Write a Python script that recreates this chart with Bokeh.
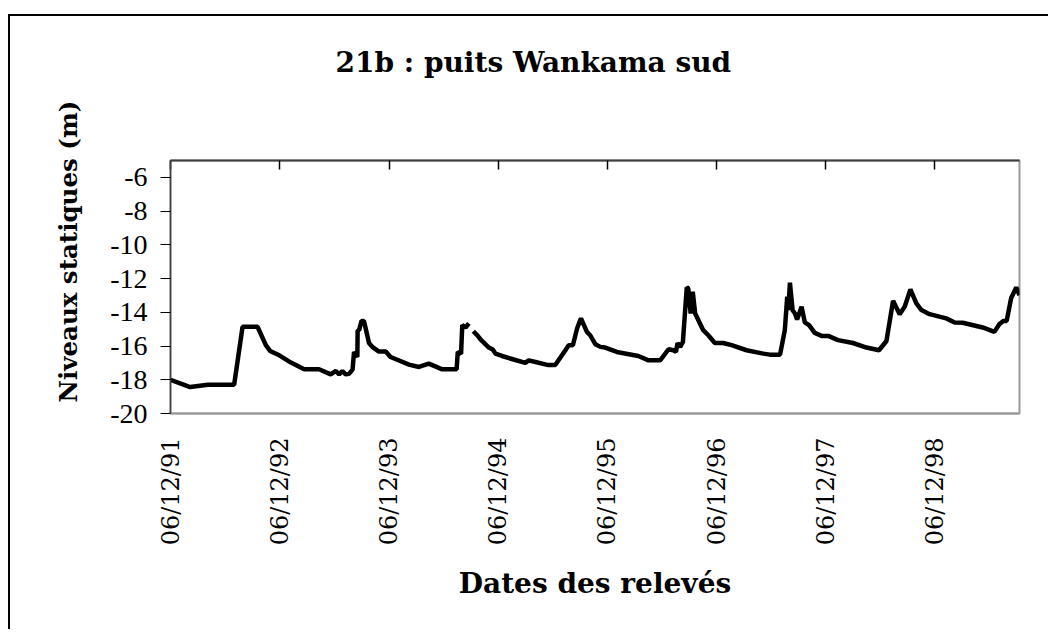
import numpy as np
import pandas as pd
from bokeh.plotting import figure
from bokeh.models import (FixedTicker, DatetimeTickFormatter, DatetimeAxis,
                          Title, Range1d, CustomJSTickFormatter)
from bokeh.embed import file_html
from bokeh.resources import INLINE

# ---- data ----
dates = [
    "1991-12-06", "1992-02-10", "1992-04-09", "1992-07-06", "1992-08-03",
    "1992-09-22", "1992-10-20", "1992-11-03", "1992-12-04", "1993-01-12",
    "1993-02-25", "1993-04-16", "1993-05-25", "1993-06-11", "1993-06-22",
    "1993-07-03", "1993-07-14", "1993-07-25", "1993-08-06", "1993-08-11",
    "1993-08-22", "1993-08-23", "1993-08-28", "1993-09-05", "1993-09-13",
    "1993-09-19", "1993-09-30", "1993-10-11", "1993-11-02", "1993-11-25",
    "1993-12-11", "1994-02-11", "1994-03-16", "1994-04-18", "1994-06-02",
    "1994-07-20", "1994-07-24", "1994-08-04", "1994-08-08", "1994-08-19",
    "1994-08-30", "1994-09-06", "1994-09-14", "1994-09-27", "1994-10-08",
    "1994-11-05", "1994-11-18", "1994-11-27", "1994-12-19", "1995-01-27",
    "1995-03-07", "1995-03-18", "1995-04-10", "1995-05-19", "1995-06-15",
    "1995-07-19", "1995-07-30", "1995-08-13", "1995-08-27", "1995-09-09",
    "1995-09-29", "1995-10-10", "1995-10-27", "1995-11-13", "1995-11-29",
    "1996-01-07", "1996-03-19", "1996-04-22", "1996-05-31", "1996-06-28",
    "1996-07-14", "1996-07-23", "1996-07-28", "1996-08-06", "1996-08-15",
    "1996-08-28", "1996-09-02", "1996-09-10", "1996-09-17", "1996-09-25",
    "1996-10-22", "1996-11-08", "1996-11-30", "1996-12-28", "1997-01-25",
    "1997-03-16", "1997-05-11", "1997-06-02", "1997-07-06", "1997-07-22",
    "1997-07-30", "1997-08-03", "1997-08-08", "1997-08-17", "1997-08-25",
    "1997-09-01", "1997-09-16", "1997-09-27", "1997-10-11", "1997-10-30",
    "1997-11-22", "1997-12-14", "1998-01-16", "1998-03-07", "1998-04-21",
    "1998-06-02", "1998-06-27", "1998-07-19", "1998-08-10", "1998-08-27",
    "1998-09-15", "1998-10-05", "1998-10-22", "1998-11-18", "1999-01-13",
    "1999-02-10", "1999-03-09", "1999-05-15", "1999-06-23", "1999-07-10",
    "1999-07-23", "1999-08-03", "1999-08-18", "1999-09-04", "1999-09-15",
]
levels = [
    -18.00, -18.43, -18.29, -18.29, -14.86,
    -14.86, -15.95, -16.29, -16.55, -16.98,
    -17.38, -17.38, -17.68, -17.48, -17.68,
    -17.48, -17.68, -17.65, -17.40, -16.35,
    -16.65, -15.06, -15.06, -14.51, -14.51,
    -14.96, -15.82, -16.05, -16.33, -16.33,
    -16.65, -17.10, -17.24, -17.04, -17.38,
    -17.38, -16.35, -16.45, -14.76, -14.90,
    -14.66, np.nan, -15.12, -15.36, -15.61,
    -16.09, -16.21, -16.45, -16.59, -16.80,
    -17.00, -16.85, -16.95, -17.12, -17.12,
    -16.25, -15.95, -15.95, -14.96, -14.36,
    -15.16, -15.36, -15.89, -16.05, -16.09,
    -16.35, -16.59, -16.85, -16.85, -16.19,
    -16.25, -16.35, -15.82, -16.05, -15.76,
    -12.52, -12.58, -14.07, -12.78, -14.07,
    -15.06, -15.36, -15.82, -15.82, -15.95,
    -16.25, -16.45, -16.51, -16.51, -15.06,
    -13.08, -13.87, -12.24, -13.87, -14.07,
    -14.42, -13.67, -14.60, -14.76, -15.22,
    -15.40, -15.40, -15.65, -15.82, -16.09,
    -16.25, -15.70, -13.32, -14.11, -13.67,
    -12.64, -13.47, -13.87, -14.11, -14.36,
    -14.60, -14.62, -14.90, -15.16, -14.70,
    -14.51, -14.51, -13.17, -12.52, -12.98,
]
tick_dates = ["1991-12-06", "1992-12-06", "1993-12-06", "1994-12-06",
              "1995-12-06", "1996-12-06", "1997-12-06", "1998-12-06"]
tick_labels = ["06/12/91", "06/12/92", "06/12/93", "06/12/94",
               "06/12/95", "06/12/96", "06/12/97", "06/12/98"]
y_ticks = [-20, -18, -16, -14, -12, -10, -8, -6]

title_text = "21b : puits Wankama sud"
x_title = "Dates des relevés"
y_title = "Niveaux statiques (m)"


def to_ms(values):
    ts = pd.to_datetime(pd.Series(values))
    return ((ts - pd.Timestamp("1970-01-01")) / pd.Timedelta(milliseconds=1)).astype(float).tolist()


x_ms = to_ms(dates)
tick_ms = to_ms(tick_dates)

p = figure(width=1040, height=615, x_axis_type="datetime",
           output_backend="svg", toolbar_location=None,
           x_range=Range1d(x_ms[0], x_ms[-1]), y_range=Range1d(-20, -5),
           min_border_left=160, min_border_right=31,
           min_border_top=144, min_border_bottom=218)
p.styles = {"margin-top": "14px", "margin-left": "8px",
            "border-top": "2px solid black",
            "border-left": "2px solid black"}
p.background_fill_color = "white"
p.border_fill_color = "white"
p.grid.visible = False
p.outline_line_color = "#9a9a9a"
p.outline_line_width = 2

p.line(x_ms, levels, line_color="black", line_width=4.5)

fmt_str = "%d/%m/%y"
fmt = DatetimeTickFormatter(milliseconds=fmt_str, seconds=fmt_str, minsec=fmt_str,
                            minutes=fmt_str, hourmin=fmt_str, hours=fmt_str,
                            days=fmt_str, months=fmt_str, years=fmt_str)

xa = p.xaxis[0]
xa.ticker = FixedTicker(ticks=tick_ms)
xa.formatter = fmt
xa.major_label_overrides = {t: l for t, l in zip(tick_ms, tick_labels)}
xa.major_label_orientation = np.pi / 2
xa.major_tick_out = 0
xa.major_tick_in = 0
xa.minor_tick_out = 0
xa.minor_tick_in = 0
xa.major_tick_line_color = None
xa.minor_tick_line_color = None
xa.axis_line_color = "#9a9a9a"
xa.axis_line_width = 2
xa.major_label_standoff = 24
xa.major_label_text_font = "DejaVu Serif"
xa.major_label_text_font_size = "24px"
xa.major_label_text_color = "black"
xa.axis_label = x_title
xa.axis_label_text_font = "DejaVu Serif"
xa.axis_label_text_font_style = "bold"
xa.axis_label_text_font_size = "28px"
xa.axis_label_text_color = "black"
xa.axis_label_standoff = 19

top = DatetimeAxis(ticker=FixedTicker(ticks=tick_ms), formatter=fmt,
                   major_tick_in=9, major_tick_out=0,
                   minor_tick_in=0, minor_tick_out=0,
                   major_tick_line_color="black", major_tick_line_width=1.5,
                   major_label_standoff=0,
                   major_label_text_font_size="0px",
                   major_label_text_color=None,
                   axis_line_color="#404040", axis_line_width=2)
p.add_layout(top, "above")

ya = p.yaxis[0]
ya.ticker = FixedTicker(ticks=y_ticks)
ya.formatter = CustomJSTickFormatter(code="return tick.toFixed(0);")
ya.major_tick_out = 10
ya.major_tick_in = 0
ya.minor_tick_line_color = None
ya.major_tick_line_color = "black"
ya.axis_line_color = "#404040"
ya.axis_line_width = 1.5
ya.major_label_standoff = 13
ya.major_label_text_font = "Liberation Serif"
ya.major_label_text_font_size = "28px"
ya.major_label_text_color = "black"

p.title.text = ""

# blank spacer that lifts the chart title away from the plot frame
spacer = Title(text=" ", text_font_size="2px", standoff=73, text_color="white")
p.add_layout(spacer, "above")

main_title = Title(text=title_text, align="left", offset=165,
                   vertical_align="bottom", standoff=10,
                   text_font="DejaVu Serif", text_font_style="bold",
                   text_font_size="28px", text_color="black")
p.add_layout(main_title, "above")

ytitle = Title(text=y_title, align="left", offset=11, vertical_align="bottom",
               standoff=50, text_font="DejaVu Serif", text_font_style="bold",
               text_font_size="24.5px", text_color="black")
p.add_layout(ytitle, "left")

open("out.html", "w").write(file_html(p, INLINE))
